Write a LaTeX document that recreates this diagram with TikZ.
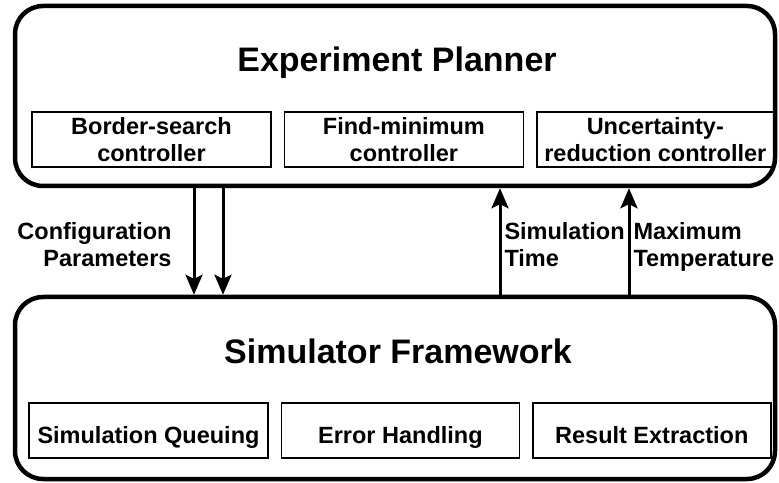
\documentclass[tikz,border=0pt]{standalone}
\usepackage{fontspec}
\setmainfont{Liberation Sans}
\usetikzlibrary{arrows.meta,positioning}

\begin{document}
\begin{tikzpicture}[
x=1pt, y=1pt,
blockbox/.style={draw, line width=4.5pt, rounded corners=28pt, minimum width=760pt, inner sep=0pt},
partbox/.style={draw, line width=1.4pt, minimum height=55pt, inner sep=0pt, align=center, font=\fontsize{23.5}{27}\selectfont\bfseries},
onelinebox/.style={partbox, text height=26pt, text depth=0pt},
titletext/.style={font=\fontsize{34}{40}\selectfont\bfseries, anchor=base, inner sep=0pt},
flowlabel/.style={font=\fontsize{23.5}{27}\selectfont\bfseries, inner sep=0pt},
flow/.style={line width=3pt, -{Stealth[length=20pt,width=17pt,inset=4pt]}},
node distance=12pt,
]
\useasboundingbox (0,0) rectangle (779,482);

% Defining the two main blocks
\node[blockbox, minimum height=180pt] (planner) at (395,386) {};
\node[blockbox, minimum height=182pt] (framework) at (395,94) {};

% Titles
\node[titletext] (plannertitle) at (397,410) {Experiment Planner};
\node[titletext] (frameworktitle) at (398,118) {Simulator Framework};

% Controllers of the planner
\node[partbox, minimum width=239pt] (search) at (151.5,342.5) {Border-search\\controller};
\node[partbox, minimum width=239pt] (findmin) [right=of search] {Find-minimum\\controller};
\node[partbox, minimum width=237pt] (uncertainty) [right=of findmin] {Uncertainty-\\reduction controller};

% Parts of the simulator framework
\node[onelinebox, minimum width=239pt] (queuing) at (148.5,51.5) {Simulation Queuing};
\node[onelinebox, minimum width=238pt] (errors) [right=of queuing] {Error Handling};
\node[onelinebox, minimum width=238pt] (extraction) [right=of errors] {Result Extraction};

% Parameters going down
\draw[flow] ([xshift=-201pt]planner.south) -- node[flowlabel, anchor=east, align=right, xshift=-21pt, yshift=-3.5pt] (configlabel) {Configuration\\Parameters} ([xshift=-201pt]framework.north);
\draw[flow] ([xshift=-172pt]planner.south) -- ([xshift=-172pt]framework.north);

% Results going up
\draw[flow] ([xshift=105pt]framework.north) -- node[flowlabel, anchor=west, align=left, xshift=3pt, yshift=-3.5pt] (timelabel) {Simulation\\Time} ([xshift=105pt]planner.south);
\draw[flow] ([xshift=234pt]framework.north) -- node[flowlabel, anchor=west, align=left, xshift=3pt, yshift=-5.5pt] (templabel) {Maximum\\Temperature} ([xshift=234pt]planner.south);

\end{tikzpicture}
\end{document}
